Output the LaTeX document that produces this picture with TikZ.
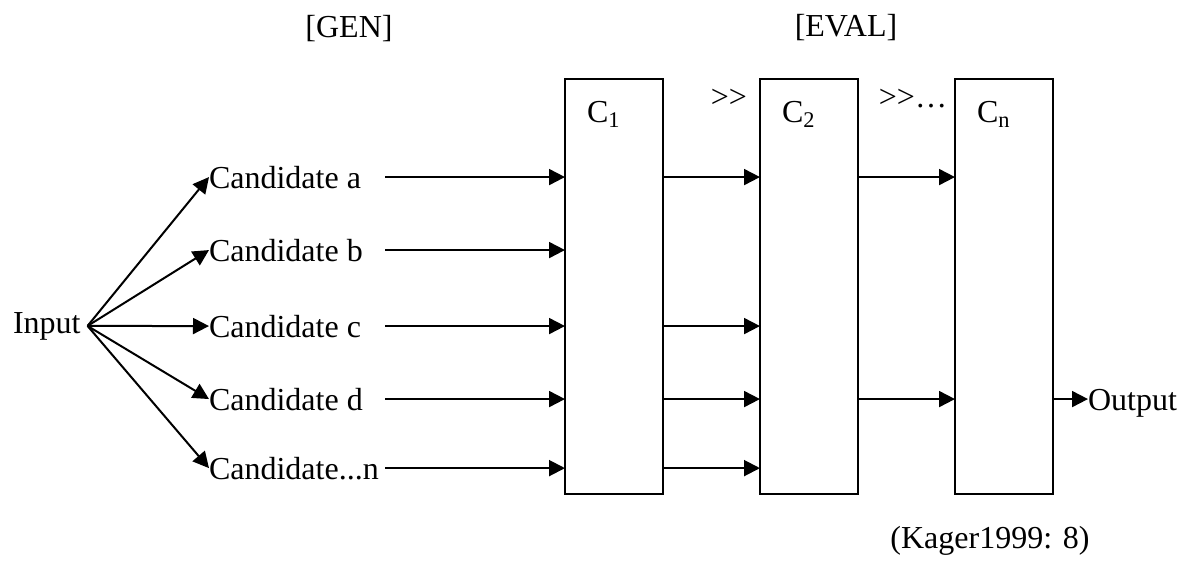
\documentclass[tikz,border=0pt]{standalone}
\usepackage{fontspec}
\setmainfont{Liberation Serif}
\usetikzlibrary{arrows.meta,positioning}

\tikzset{
lbl/.style={inner sep=0pt, outer sep=0pt, font=\fontsize{16}{19}\selectfont},
cbox/.style={draw, line width=1pt, minimum width=49pt, minimum height=207.5pt, inner sep=0pt, outer sep=0pt},
arr/.style={line width=1pt, -{Triangle[length=8pt,width=8pt]}}
}

\begin{document}
\begin{tikzpicture}[x=0.5pt,y=-0.5pt]
\useasboundingbox (0,0) rectangle (1191,568);
\node[lbl] (gen) at (349,29) {[GEN]};
\node[lbl] (eval) at (846,28) {[EVAL]};
\node[lbl,anchor=base west,inner xsep=3.5pt] (inp) at (6,333) {Input};
\node[lbl,anchor=base west] (ca) at (209,188) {Candidate a};
\node[lbl,anchor=base west] (cb) at (209,261) {Candidate b};
\node[lbl,anchor=base west] (cc) at (209,337) {Candidate c};
\node[lbl,anchor=base west] (cd) at (209,410) {Candidate d};
\node[lbl,anchor=base west] (cn) at (209,479) {Candidate...n};
\coordinate (gate) at (385,0);
\node[cbox] (c1) at (614,286.5) {};
\node[cbox,right=48.5pt of c1] (c2) {};
\node[cbox,right=48.5pt of c2] (ck) {};
\node[lbl,anchor=base west] (l1) at ([xshift=11pt,yshift=-21.5pt]c1.north west) {C\textsubscript{1}};
\node[lbl,anchor=base west] (l2) at ([xshift=11pt,yshift=-21.5pt]c2.north west) {C\textsubscript{2}};
\node[lbl,anchor=base west] (lk) at ([xshift=11pt,yshift=-21.5pt]ck.north west) {C\textsubscript{n}};
\node[lbl,anchor=base east] (g1) at ([xshift=-6.5pt,yshift=-14pt]c2.north west) {>\kern0pt>};
\node[lbl,anchor=base east] (g2) at ([xshift=-4pt,yshift=-14pt]ck.north west) {>\kern0pt>\ldots};
\node[lbl,anchor=base west] (out) at (1088,410) {Output};
\node[lbl] (src) at (990,541) {(Kager1999: 8)};
% input to candidates
\draw[arr] (inp.east) -- (ca.west);
\draw[arr] (inp.east) -- (cb.west);
\draw[arr] (inp.east) -- (cc.west);
\draw[arr] (inp.east) -- (cd.west);
\draw[arr] (inp.east) -- (cn.west);
% candidates to C1
\draw[arr] (ca -| gate) -- (ca -| c1.west);
\draw[arr] (cb -| gate) -- (cb -| c1.west);
\draw[arr] (cc -| gate) -- (cc -| c1.west);
\draw[arr] (cd -| gate) -- (cd -| c1.west);
\draw[arr] (cn -| gate) -- (cn -| c1.west);
% C1 to C2
\draw[arr] (ca -| c1.east) -- (ca -| c2.west);
\draw[arr] (cc -| c1.east) -- (cc -| c2.west);
\draw[arr] (cd -| c1.east) -- (cd -| c2.west);
\draw[arr] (cn -| c1.east) -- (cn -| c2.west);
% C2 to Cn
\draw[arr] (ca -| c2.east) -- (ca -| ck.west);
\draw[arr] (cd -| c2.east) -- (cd -| ck.west);
% Cn to output
\draw[arr] (cd -| ck.east) -- (cd -| out.west);
\end{tikzpicture}
\end{document}
